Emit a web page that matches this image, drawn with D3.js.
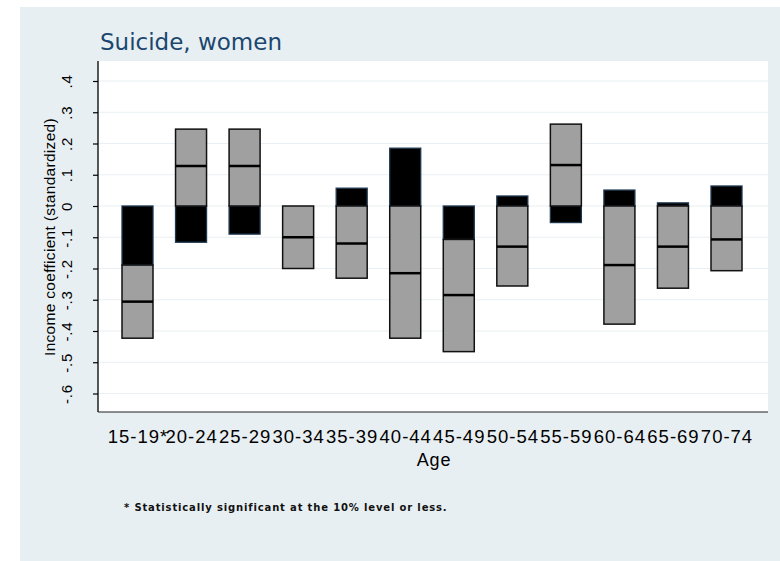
<!DOCTYPE html>
<html>
<head>
<meta charset="utf-8">
<script src="https://cdn.jsdelivr.net/npm/d3@7/dist/d3.min.js"></script>
<style>
  html, body { margin: 0; padding: 0; background: #ffffff; }
  svg { display: block; }
  text { font-family: "DejaVu Sans", "Liberation Sans", sans-serif; }
</style>
</head>
<body>
<svg id="chart" width="780" height="561"></svg>
<script>
// Age groups (asterisk marks statistical significance)
const ages = ["15-19*", "20-24", "25-29", "30-34", "35-39", "40-44",
              "45-49", "50-54", "55-59", "60-64", "65-69", "70-74"];

// Point estimate of the standardized income coefficient
const estimate  = [-0.306, 0.128, 0.128, -0.100, -0.120, -0.215,
                   -0.285, -0.130, 0.131, -0.189, -0.130, -0.107];
// Grey interval box
const grayLow   = [-0.423, 0.000, 0.000, -0.200, -0.231, -0.423,
                   -0.466, -0.256, 0.000, -0.378, -0.263, -0.207];
const grayHigh  = [-0.189, 0.246, 0.246, 0.000, 0.000, 0.000,
                   -0.107, 0.000, 0.262, 0.000, 0.000, 0.000];
// Black interval box
const blackLow  = [-0.189, -0.116, -0.090, 0.000, 0.000, 0.000,
                   -0.107, 0.000, -0.053, 0.000, 0.000, 0.000];
const blackHigh = [0.000, 0.000, 0.000, 0.000, 0.057, 0.185,
                   0.000, 0.032, 0.000, 0.051, 0.010, 0.064];

const yTicks = [-0.6, -0.5, -0.4, -0.3, -0.2, -0.1, 0, 0.1, 0.2, 0.3, 0.4];
// Stata-style labels: ".4", "-.6", plain hyphen for the minus
const fmtTick = v => v === 0 ? "0"
  : d3.format(".1f")(v).replace("\u2212", "-").replace("0.", ".");

const svg = d3.select("#chart");

// graph region
svg.append("rect").attr("x", 20).attr("y", 7).attr("width", 760).attr("height", 554)
  .attr("fill", "#e8eff2");

const plot = { left: 98, right: 768, top: 61, bottom: 412 };

// plot region
svg.append("rect")
  .attr("x", plot.left).attr("y", plot.top)
  .attr("width", plot.right - plot.left).attr("height", plot.bottom - plot.top)
  .attr("fill", "#ffffff");

const y = d3.scaleLinear().domain([-0.6, 0.4]).range([393.5, 81]);
const x = d3.scalePoint().domain(ages).range([137.5, 726.5]);
const boxW = 31;

// grid lines
svg.append("g").selectAll("line").data(yTicks).join("line")
  .attr("x1", plot.left).attr("x2", plot.right)
  .attr("y1", d => y(d)).attr("y2", d => y(d))
  .attr("stroke", "#e9eff2").attr("stroke-width", 1.2);

// y axis
const yAxis = d3.axisLeft(y).tickValues(yTicks).tickFormat(fmtTick).tickSize(5).tickPadding(0);
const gy = svg.append("g").attr("transform", `translate(${plot.left},0)`).call(yAxis);
gy.select(".domain").remove();
gy.selectAll(".tick line").attr("stroke", "#000").attr("stroke-width", 1.2);
gy.selectAll(".tick text")
  .attr("x", 0).attr("y", 0).attr("dy", null)
  .attr("transform", "translate(-32,0) rotate(-90)")
  .attr("text-anchor", "middle").attr("dominant-baseline", "central")
  .attr("font-size", 15).attr("fill", "#000")
  .attr("letter-spacing", 0.8)
  .style("font-family", "Liberation Sans, Arial, sans-serif");
svg.append("line")
  .attr("x1", plot.left).attr("x2", plot.left)
  .attr("y1", plot.top).attr("y2", plot.bottom)
  .attr("stroke", "#000").attr("stroke-width", 1.3);

// x axis
const xAxis = d3.axisBottom(x).tickSize(0).tickPadding(0);
const gx = svg.append("g").attr("transform", `translate(0,${plot.bottom})`).call(xAxis);
gx.select(".domain").remove();
gx.selectAll(".tick text")
  .attr("y", 31).attr("dy", null)
  .attr("font-size", 18.5).attr("fill", "#000")
  .attr("letter-spacing", 1.0)
  .style("font-family", "Liberation Sans, Arial, sans-serif");
svg.append("line")
  .attr("x1", plot.left).attr("x2", plot.right)
  .attr("y1", plot.bottom).attr("y2", plot.bottom)
  .attr("stroke", "#222").attr("stroke-width", 1.2);

const rows = ages.map((a, i) => ({
  age: a, est: estimate[i],
  gLo: grayLow[i], gHi: grayHigh[i],
  bLo: blackLow[i], bHi: blackHigh[i]
}));

// black boxes
svg.append("g").selectAll("rect")
  .data(rows.filter(d => d.bHi - d.bLo > 0)).join("rect")
  .attr("x", d => x(d.age) - boxW / 2).attr("width", boxW)
  .attr("y", d => y(d.bHi)).attr("height", d => y(d.bLo) - y(d.bHi))
  .attr("fill", "#000").attr("stroke", "#1f3850").attr("stroke-width", 1.3);

// grey boxes
svg.append("g").selectAll("rect")
  .data(rows.filter(d => d.gHi - d.gLo > 0)).join("rect")
  .attr("x", d => x(d.age) - boxW / 2).attr("width", boxW)
  .attr("y", d => y(d.gHi)).attr("height", d => y(d.gLo) - y(d.gHi))
  .attr("fill", "#a0a0a0").attr("stroke", "#111").attr("stroke-width", 1.5);

// point estimates
svg.append("g").selectAll("line").data(rows).join("line")
  .attr("x1", d => x(d.age) - boxW / 2).attr("x2", d => x(d.age) + boxW / 2)
  .attr("y1", d => y(d.est)).attr("y2", d => y(d.est))
  .attr("stroke", "#000").attr("stroke-width", 2.5);

// titles
svg.append("text").attr("x", 100).attr("y", 50)
  .attr("font-size", 23).attr("fill", "#1a476f")
  .text("Suicide, women");

svg.append("text")
  .attr("transform", "translate(49,237) rotate(-90)")
  .attr("text-anchor", "middle").attr("dominant-baseline", "central")
  .attr("font-size", 15.5).attr("fill", "#000")
  .attr("letter-spacing", 0.3)
  .style("font-family", "Liberation Sans, Arial, sans-serif")
  .text("Income coefficient (standardized)");

svg.append("text").attr("x", 434).attr("y", 466)
  .attr("text-anchor", "middle").attr("font-size", 18).attr("fill", "#000")
  .attr("letter-spacing", 0.8)
  .style("font-family", "Liberation Sans, Arial, sans-serif")
  .text("Age");

svg.append("text").attr("x", 124).attr("y", 511)
  .attr("font-size", 10).attr("font-weight", "bold").attr("fill", "#111")
  .attr("letter-spacing", 0.85)
  .text("* Statistically significant at the 10% level or less.");
</script>
</body>
</html>
